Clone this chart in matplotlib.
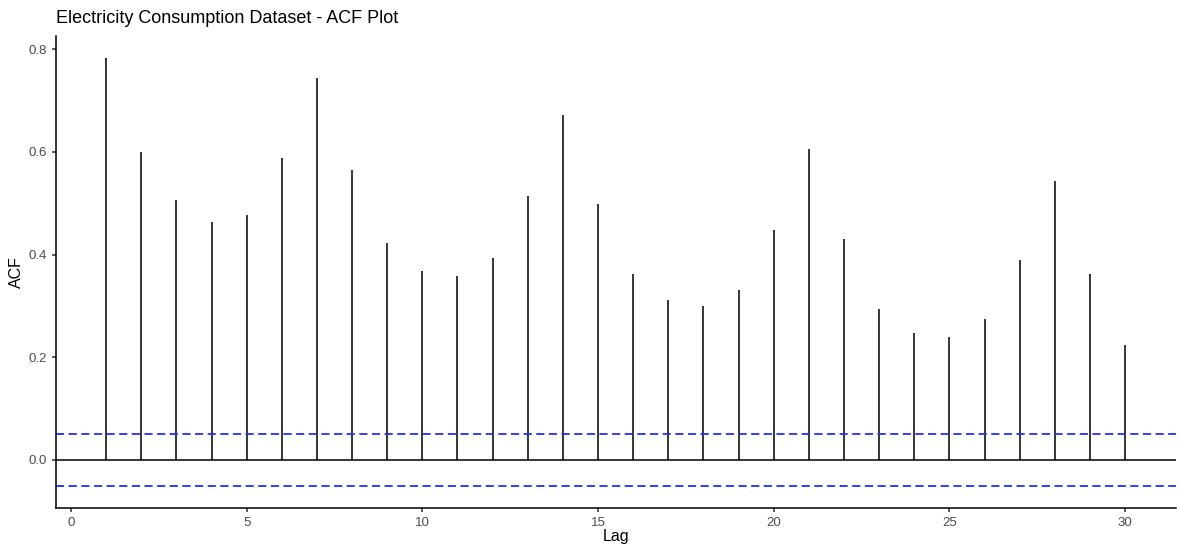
import matplotlib.pyplot as plt

plt.rcParams["font.family"] = ["Liberation Sans", "DejaVu Sans"]

# Valores da ACF (lags 1..30)
lags = list(range(1, 31))
acf = [0.784, 0.600, 0.506, 0.463, 0.477, 0.588, 0.745, 0.564, 0.422, 0.368,
       0.358, 0.393, 0.514, 0.673, 0.498, 0.362, 0.311, 0.300, 0.331, 0.448,
       0.605, 0.430, 0.294, 0.247, 0.239, 0.274, 0.389, 0.543, 0.362, 0.224]
conf = 0.0512

fig = plt.figure(figsize=(11.79, 5.45), dpi=100)
ax = fig.add_axes([0.0471, 0.0679, 0.9504, 0.8661])

ax.vlines(lags, 0, acf, color="black", lw=1.1)
ax.axhline(0, color="black", lw=1.1)
ax.axhline(conf, color="#1f2fff", lw=1.3, dashes=(4.5, 2.5))
ax.axhline(-conf, color="#1f2fff", lw=1.3, dashes=(4.5, 2.5))

ax.set_xlim(-0.44, 31.45)
ax.set_ylim(-0.0935, 0.826)
ax.set_xticks([0, 5, 10, 15, 20, 25, 30])
ax.set_yticks([0.0, 0.2, 0.4, 0.6, 0.8])
ax.set_yticklabels(["0.0", "0.2", "0.4", "0.6", "0.8"])

for s in ["top", "right"]:
    ax.spines[s].set_visible(False)
for s in ["left", "bottom"]:
    ax.spines[s].set_linewidth(1.1)
    ax.spines[s].set_color("black")
ax.tick_params(length=3, width=1.1, colors="#333333", labelcolor="#4d4d4d",
               labelsize=9.5)

ax.set_title("Electricity Consumption Dataset - ACF Plot", loc="left",
             fontsize=13, pad=9)
ax.set_xlabel("Lag", fontsize=11.5, labelpad=0)
ax.set_ylabel("ACF", fontsize=11.5, labelpad=3)

fig.savefig("out.png", dpi=100)
